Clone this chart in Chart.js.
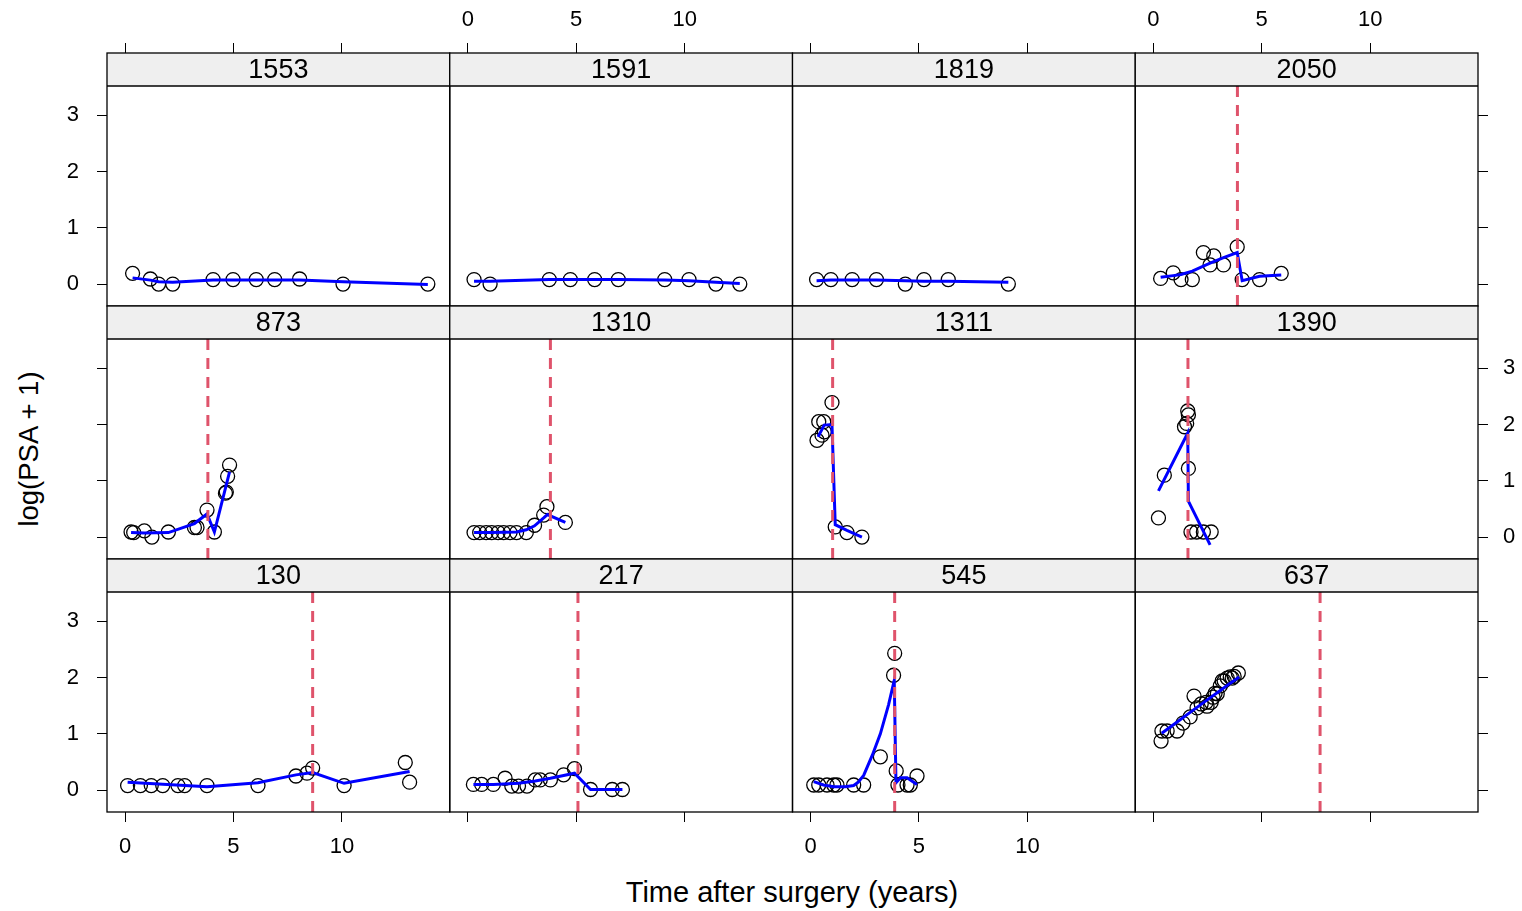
<!DOCTYPE html>
<html>
<head>
<meta charset="utf-8">
<script src="https://cdn.jsdelivr.net/npm/chart.js@4.4.0/dist/chart.umd.min.js"></script>
<style>
  html, body { margin: 0; padding: 0; background: #fff; }
  #wrap { position: relative; width: 1522px; height: 911px; overflow: hidden; }
  #wrap canvas { position: absolute; left: 0; top: 0; }
  .axis-title { position: absolute; font-family: "Liberation Sans", Arial, sans-serif;
                color: #000; white-space: nowrap; }
  #xlab { left: 792px; top: 892px; font-size: 29px; transform: translate(-50%, -50%); }
  #ylab { left: 29px; top: 449px; font-size: 27.5px; transform: translate(-50%, -50%) rotate(-90deg); }
</style>
</head>
<body>
<div id="wrap">
  <div class="axis-title" id="xlab">Time after surgery (years)</div>
  <div class="axis-title" id="ylab">log(PSA + 1)</div>
</div>
<script>
// Patient identifiers, in panel order (left to right, top row first)
const patientIds = ['1553', '1591', '1819', '2050', '873', '1310', '1311', '1390', '130', '217', '545', '637'];

// Time of the event (vertical dashed line); null when there is none
const eventTimes = [null, null, null, 3.88, 3.82, 3.81, 1.02, 1.60, 8.65, 5.08, 3.88, 7.69];

// Axis ticks
const xTicks = [0, 5, 10];
const yTicks = [0, 1, 2, 3];

// Observed log(PSA + 1) per patient, and the fitted trajectory
const time1553 = [0.35, 1.17, 1.55, 2.20, 4.06, 4.98, 6.05, 6.90, 8.05, 10.05, 13.96];
const lpsa1553 = [0.19, 0.09, 0.00, 0.00, 0.08, 0.08, 0.08, 0.08, 0.09, 0.00, 0.00];
const fitT1553 = [0.35, 1.17, 1.55, 2.20, 4.06, 6.05, 8.05, 10.05, 13.96];
const fitV1553 = [0.11, 0.07, 0.04, 0.03, 0.07, 0.07, 0.07, 0.04, -0.01];

const time1591 = [0.29, 1.03, 3.76, 4.73, 5.85, 6.94, 9.08, 10.20, 11.44, 12.54];
const lpsa1591 = [0.08, 0.00, 0.08, 0.08, 0.08, 0.08, 0.08, 0.08, 0.00, 0.00];
const fitT1591 = [0.29, 1.03, 3.76, 4.73, 5.85, 6.94, 9.08, 10.20, 11.44, 12.54];
const fitV1591 = [0.05, 0.05, 0.08, 0.08, 0.08, 0.08, 0.07, 0.06, 0.03, 0.01];

const time1819 = [0.28, 0.94, 1.92, 3.04, 4.37, 5.23, 6.35, 9.12];
const lpsa1819 = [0.08, 0.08, 0.08, 0.08, 0.00, 0.08, 0.08, 0.00];
const fitT1819 = [0.28, 0.94, 1.92, 3.04, 4.37, 5.23, 6.35, 9.12];
const fitV1819 = [0.06, 0.07, 0.07, 0.07, 0.06, 0.05, 0.05, 0.03];

const time2050 = [0.34, 0.92, 1.28, 1.80, 2.31, 2.62, 2.79, 3.24, 3.87, 4.10, 4.90, 5.90];
const lpsa2050 = [0.10, 0.20, 0.08, 0.08, 0.56, 0.34, 0.50, 0.34, 0.66, 0.08, 0.08, 0.19];
const fitT2050 = [0.34, 0.92, 1.28, 1.80, 2.31, 2.62, 2.79, 3.24, 3.87, 4.10, 4.90, 5.90];
const fitV2050 = [0.12, 0.15, 0.17, 0.23, 0.32, 0.37, 0.40, 0.47, 0.56, 0.06, 0.14, 0.16];

const time873 = [0.28, 0.40, 0.89, 1.24, 2.00, 3.20, 3.32, 3.78, 4.12, 4.63, 4.67, 4.73, 4.82];
const lpsa873 = [0.09, 0.08, 0.11, 0.00, 0.09, 0.17, 0.17, 0.48, 0.09, 0.78, 0.80, 1.08, 1.28];
const fitT873 = [0.28, 0.89, 2.00, 3.20, 3.78, 4.12, 4.82];
const fitV873 = [0.08, 0.07, 0.08, 0.24, 0.41, 0.09, 1.16];

const time1310 = [0.29, 0.55, 0.85, 1.10, 1.40, 1.65, 1.95, 2.25, 2.70, 3.08, 3.50, 3.65, 4.50];
const lpsa1310 = [0.08, 0.08, 0.08, 0.08, 0.08, 0.08, 0.08, 0.08, 0.08, 0.21, 0.39, 0.54, 0.26];
const fitT1310 = [0.29, 1.10, 2.25, 2.70, 3.08, 3.50, 3.67, 4.50];
const fitV1310 = [0.08, 0.08, 0.09, 0.13, 0.20, 0.34, 0.40, 0.26];

const time1311 = [0.30, 0.38, 0.53, 0.61, 0.64, 0.99, 1.14, 1.68, 2.37];
const lpsa1311 = [1.72, 2.05, 1.81, 2.05, 1.87, 2.39, 0.18, 0.08, 0.00];
const fitT1311 = [0.35, 0.63, 0.99, 1.14, 1.68, 2.37];
const fitV1311 = [1.78, 1.99, 2.00, 0.22, 0.12, 0.00];

const time1390 = [0.24, 0.51, 1.44, 1.54, 1.59, 1.62, 1.62, 1.74, 2.00, 2.31, 2.67];
const lpsa1390 = [0.34, 1.10, 1.96, 2.02, 2.24, 2.17, 1.22, 0.09, 0.09, 0.09, 0.09];
const fitT1390 = [0.24, 1.59, 1.62, 2.62];
const fitV1390 = [0.82, 1.85, 0.64, -0.14];

const time130 = [0.12, 0.71, 1.21, 1.74, 2.44, 2.75, 3.78, 6.13, 7.88, 8.39, 8.65, 10.10, 12.92, 13.12];
const lpsa130 = [0.08, 0.08, 0.08, 0.08, 0.08, 0.08, 0.08, 0.08, 0.25, 0.30, 0.39, 0.08, 0.49, 0.14];
const fitT130 = [0.12, 3.78, 6.13, 7.88, 8.65, 10.10, 13.12];
const fitV130 = [0.14, 0.06, 0.13, 0.27, 0.31, 0.12, 0.33];

const time217 = [0.26, 0.64, 1.18, 1.72, 2.03, 2.34, 2.73, 3.11, 3.34, 3.81, 4.42, 4.92, 5.66, 6.66, 7.13];
const lpsa217 = [0.10, 0.10, 0.10, 0.21, 0.07, 0.07, 0.07, 0.18, 0.18, 0.18, 0.27, 0.38, 0.01, 0.01, 0.01];
const fitT217 = [0.26, 1.18, 2.34, 3.11, 3.81, 4.42, 4.92, 5.66, 7.13];
const fitV217 = [0.10, 0.10, 0.12, 0.16, 0.21, 0.26, 0.30, 0.01, 0.01];

const time545 = [0.15, 0.38, 0.76, 1.07, 1.22, 1.99, 2.45, 3.22, 3.83, 3.88, 3.95, 4.03, 4.45, 4.60, 4.91];
const lpsa545 = [0.09, 0.09, 0.09, 0.09, 0.09, 0.09, 0.09, 0.59, 2.04, 2.43, 0.34, 0.09, 0.09, 0.09, 0.25];
const fitT545 = [0.15, 0.60, 1.07, 1.60, 1.99, 2.20, 2.45, 2.85, 3.22, 3.60, 3.86, 3.94, 4.15, 4.45, 4.91];
const fitV545 = [0.15, 0.09, 0.06, 0.06, 0.08, 0.14, 0.26, 0.62, 1.00, 1.52, 1.95, 0.13, 0.22, 0.22, 0.10];

const time637 = [0.36, 0.40, 0.64, 1.10, 1.37, 1.70, 1.88, 2.02, 2.21, 2.44, 2.48, 2.67, 2.76, 2.85, 2.95, 3.09, 3.18, 3.27, 3.41, 3.55, 3.64, 3.73, 3.92];
const lpsa637 = [0.87, 1.05, 1.05, 1.05, 1.19, 1.30, 1.67, 1.46, 1.53, 1.56, 1.49, 1.56, 1.65, 1.72, 1.71, 1.85, 1.94, 1.94, 1.99, 2.01, 1.99, 2.02, 2.08];
const fitT637 = [0.39, 1.10, 1.70, 2.44, 3.09, 3.55, 3.96];
const fitV637 = [1.01, 1.21, 1.38, 1.59, 1.77, 1.90, 2.01];

const patientSeries = {
  '1553': [time1553, lpsa1553, fitT1553, fitV1553],
  '1591': [time1591, lpsa1591, fitT1591, fitV1591],
  '1819': [time1819, lpsa1819, fitT1819, fitV1819],
  '2050': [time2050, lpsa2050, fitT2050, fitV2050],
  '873':  [time873,  lpsa873,  fitT873,  fitV873],
  '1310': [time1310, lpsa1310, fitT1310, fitV1310],
  '1311': [time1311, lpsa1311, fitT1311, fitV1311],
  '1390': [time1390, lpsa1390, fitT1390, fitV1390],
  '130':  [time130,  lpsa130,  fitT130,  fitV130],
  '217':  [time217,  lpsa217,  fitT217,  fitV217],
  '545':  [time545,  lpsa545,  fitT545,  fitV545],
  '637':  [time637,  lpsa637,  fitT637,  fitV637]
};

// ---- layout of the 4 x 3 lattice ----
const W = 1522, H = 911;
const N_COL = 4, N_ROW = 3;
const GRID_LEFT = 107, GRID_TOP = 53, GRID_RIGHT = 1478, GRID_BOTTOM = 812;
const CELL_W = (GRID_RIGHT - GRID_LEFT) / N_COL;
const CELL_H = (GRID_BOTTOM - GRID_TOP) / N_ROW;
const STRIP_H = 33;
// fixed sizes of the axis boxes round every chart area
const X_BOX = 53;
const Y_BOX = 44;

const X_MIN = -0.83, X_MAX = 14.97;
const Y_MIN = -0.39, Y_PANEL_MAX = 3.52;
// the strip sits inside each chart area, above the data region
const Y_MAX = Y_PANEL_MAX + (Y_PANEL_MAX - Y_MIN) * STRIP_H / (CELL_H - STRIP_H);

const FONT = "'Liberation Sans', Arial, sans-serif";
const TICK_FONT = { family: FONT, size: 22 };
const STRIP_FONT_SIZE = 27;

const stripPlugin = {
  id: 'lattice-strip',
  afterDraw(chart, args, opts) {
    const { ctx, chartArea: a } = chart;
    const stripBottom = chart.scales.y.getPixelForValue(Y_PANEL_MAX);
    ctx.save();
    ctx.fillStyle = '#efefef';
    ctx.fillRect(a.left, a.top, a.right - a.left, stripBottom - a.top);
    ctx.strokeStyle = '#000';
    ctx.lineWidth = 1.3;
    ctx.beginPath();
    ctx.moveTo(a.left, stripBottom);
    ctx.lineTo(a.right, stripBottom);
    ctx.stroke();
    ctx.strokeRect(a.left, a.top, a.right - a.left, a.bottom - a.top);
    ctx.fillStyle = '#000';
    ctx.font = STRIP_FONT_SIZE + 'px ' + FONT;
    ctx.textAlign = 'center';
    ctx.textBaseline = 'middle';
    ctx.fillText(opts.label, (a.left + a.right) / 2, (a.top + stripBottom) / 2 + 1);
    ctx.restore();
  }
};

function axisScale(axis, position, min, max, tickValues, showTicks, showLabels, pad) {
  return {
    type: 'linear',
    axis: axis,
    position: position,
    min: min,
    max: max,
    display: true,
    afterBuildTicks: (s) => { s.ticks = tickValues.map(v => ({ value: v })); },
    afterFit: (s) => {
      if (axis === 'x') s.height = X_BOX; else s.width = Y_BOX;
    },
    ticks: {
      display: showLabels,
      font: TICK_FONT,
      color: '#000',
      padding: pad,
      maxRotation: 0,
      autoSkip: false
    },
    grid: {
      display: showTicks,
      drawOnChartArea: false,
      drawTicks: showTicks,
      tickLength: 10,
      color: '#000',
      lineWidth: 1
    },
    border: { display: false }
  };
}

const wrap = document.getElementById('wrap');

patientIds.forEach((id, k) => {
  const col = k % N_COL, row = Math.floor(k / N_COL);
  const left = GRID_LEFT + col * CELL_W;
  const top = GRID_TOP + row * CELL_H;
  const [obsT, obsV, fitT, fitV] = patientSeries[id];
  const ev = eventTimes[k];

  const datasets = [];
  if (ev !== null) {
    datasets.push({
      data: [{ x: ev, y: Y_MIN }, { x: ev, y: Y_PANEL_MAX }],
      showLine: true, borderColor: '#DF536B', borderWidth: 3, borderDash: [11, 8],
      pointRadius: 0, order: 0
    });
  }
  datasets.push({
    data: fitT.map((t, i) => ({ x: t, y: fitV[i] })),
    showLine: true, borderColor: '#0000FF', borderWidth: 3, pointRadius: 0,
    tension: 0, order: 1
  });
  datasets.push({
    data: obsT.map((t, i) => ({ x: t, y: obsV[i] })),
    showLine: false, pointStyle: 'circle', pointRadius: 7,
    borderColor: '#000', borderWidth: 1.3, backgroundColor: 'rgba(0,0,0,0)', order: 2
  });

  const canvas = document.createElement('canvas');
  canvas.width = W; canvas.height = H;
  canvas.style.width = W + 'px'; canvas.style.height = H + 'px';
  wrap.appendChild(canvas);

  new Chart(canvas, {
    type: 'scatter',
    data: { datasets },
    options: {
      responsive: false,
      animation: false,
      devicePixelRatio: 1,
      events: [],
      layout: {
        autoPadding: false,
        padding: {
          left: left - Y_BOX,
          top: top - X_BOX,
          right: W - (left + CELL_W) - Y_BOX,
          bottom: H - (top + CELL_H) - X_BOX
        }
      },
      scales: {
        x:  axisScale('x', 'bottom', X_MIN, X_MAX, xTicks, row === N_ROW - 1, row === N_ROW - 1 && col % 2 === 0, 12),
        x2: axisScale('x', 'top',    X_MIN, X_MAX, xTicks, row === 0, row === 0 && col % 2 === 1, 10),
        y:  axisScale('y', 'left',   Y_MIN, Y_MAX, yTicks, col === 0, col === 0 && row % 2 === 0, 18),
        y2: axisScale('y', 'right',  Y_MIN, Y_MAX, yTicks, col === N_COL - 1, col === N_COL - 1 && row % 2 === 1, 15)
      },
      plugins: {
        legend: { display: false },
        tooltip: { enabled: false },
        'lattice-strip': { label: id }
      }
    },
    plugins: [stripPlugin]
  });
});
</script>
</body>
</html>
